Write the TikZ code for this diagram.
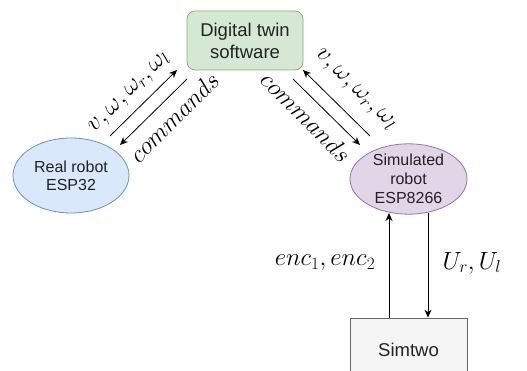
\documentclass[tikz,border=0pt]{standalone}
\usepackage{fontspec}
\setmainfont{Liberation Sans}
\usetikzlibrary{arrows.meta,shapes.geometric,calc}
\definecolor{dtfill}{HTML}{D5E8D4}\definecolor{dtline}{HTML}{82B366}
\definecolor{rrfill}{HTML}{DAE8FC}\definecolor{rrline}{HTML}{6C8EBF}
\definecolor{srfill}{HTML}{E1D5E7}\definecolor{srline}{HTML}{9673A6}
\definecolor{stfill}{HTML}{F5F5F5}\definecolor{stline}{HTML}{666666}
\definecolor{txt}{HTML}{222222}
\begin{document}
\begin{tikzpicture}[x=1pt,y=-1pt,
  boxnode/.style={draw,line width=0.8pt,text=txt,align=center,inner sep=0pt},
  ellnode/.style={boxnode,ellipse},
  conn/.style={line width=0.8pt,-{Stealth[length=8pt,width=7pt]}},
  mlabel/.style={font=\fontsize{23.5}{26}\selectfont,inner sep=0pt}]
\useasboundingbox (0,0) rectangle (527,371);
\clip (0,0) rectangle (527,371);
\node[boxnode,fill=dtfill,draw=dtline,rounded corners=8pt,minimum width=116pt,minimum height=59pt,
  font=\fontsize{18.5}{22}\selectfont] (dt) at (245,40.5) {Digital twin\\software};
\node[ellnode,fill=rrfill,draw=rrline,minimum width=116pt,minimum height=75pt,
  font=\fontsize{16}{18}\selectfont] (rr) at (71,175.5) {Real robot\\ESP32};
\node[ellnode,fill=srfill,draw=srline,minimum width=117pt,minimum height=68pt,
  font=\fontsize{16}{19}\selectfont] (sr) at (408.5,179) {Simulated\\robot\\ESP8266};
\node[boxnode,fill=stfill,draw=stline,minimum width=117pt,minimum height=64pt,
  font=\fontsize{18.5}{22}\selectfont] (st) at (408.5,350) {Simtwo};
% left pair
\coordinate (a1s) at (110,136); \coordinate (a1e) at (177,70);
\coordinate (a2s) at (187,79);  \coordinate (a2e) at (120,145);
\draw[conn] (a1s) -- (a1e);
\draw[conn] (a2s) -- (a2e);
% right pair
\coordinate (a3s) at (370,136); \coordinate (a3e) at (303,70);
\coordinate (a4s) at (293,79);  \coordinate (a4e) at (360,145);
\draw[conn] (a3s) -- (a3e);
\draw[conn] (a4s) -- (a4e);
% vertical
\draw[conn] (st.north -| 389,0) -- (389,213);
\draw[conn] (428,213) -- (st.north -| 428,0);
% labels
\node[mlabel,rotate=45] (l1) at (130,93) {$v,\omega,\omega_r,\omega_l$};
\node[mlabel,rotate=45] (l2) at (174,117) {$commands$};
\node[mlabel,rotate=-45] (l3) at (355,90) {$v,\omega,\omega_r,\omega_l$};
\node[mlabel,rotate=-45] (l4) at (306,117) {$commands$};
\node[mlabel] (l5) at (325,263) {$enc_1,enc_2$};
\node[mlabel] (l6) at (472,263) {$U_r,U_l$};
\end{tikzpicture}
\end{document}
